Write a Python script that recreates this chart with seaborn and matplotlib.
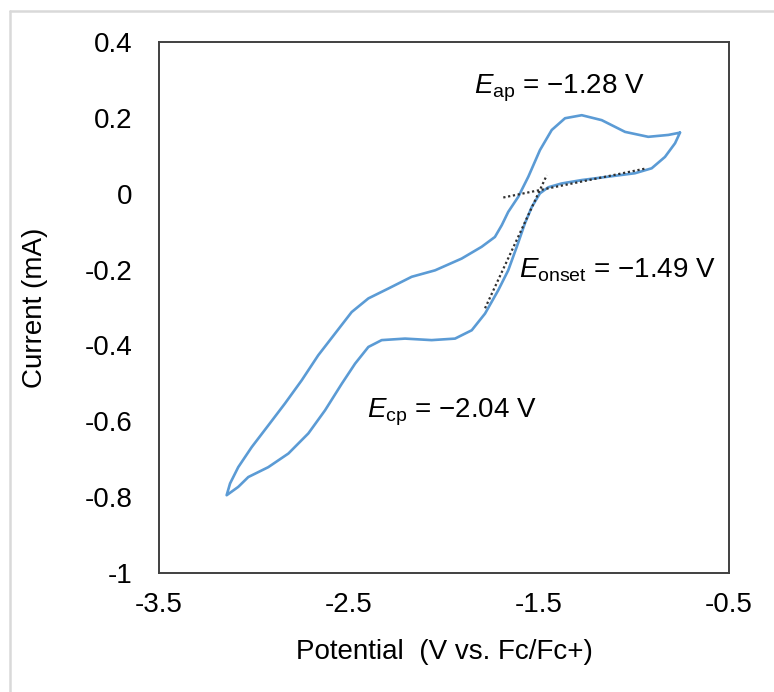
import numpy as np
import pandas as pd
import matplotlib
matplotlib.use("Agg")
import matplotlib.pyplot as plt
from matplotlib.lines import Line2D
import seaborn as sns

# ---- data (cathodic scan from right tip, then anodic return) ----
cath_V = [-0.758, -0.784, -0.837, -0.907, -0.995, -1.135, -1.275, -1.381, -1.451, -1.495,
          -1.538, -1.574, -1.617, -1.662, -1.714, -1.784, -1.854, -1.942, -2.065, -2.205,
          -2.328, -2.398, -2.468, -2.538, -2.626, -2.714, -2.819, -2.925, -3.030, -3.083,
          -3.144]
cath_I = [0.161, 0.133, 0.097, 0.067, 0.054, 0.045, 0.036, 0.027, 0.017, 0.001,
          -0.035, -0.078, -0.140, -0.202, -0.254, -0.316, -0.360, -0.382, -0.386, -0.382,
          -0.386, -0.404, -0.448, -0.501, -0.571, -0.632, -0.685, -0.721, -0.747, -0.773,
          -0.795]
anod_V = [-3.126, -3.083, -3.012, -2.925, -2.837, -2.749, -2.662, -2.574, -2.486, -2.398,
          -2.293, -2.170, -2.047, -1.907, -1.802, -1.732, -1.696, -1.662, -1.609, -1.556,
          -1.495, -1.433, -1.363, -1.275, -1.170, -1.047, -0.925, -0.819, -0.758]
anod_I = [-0.764, -0.721, -0.668, -0.611, -0.553, -0.492, -0.426, -0.369, -0.312, -0.276,
          -0.250, -0.219, -0.202, -0.171, -0.140, -0.114, -0.083, -0.048, -0.008, 0.045,
          0.115, 0.168, 0.199, 0.207, 0.194, 0.163, 0.150, 0.155, 0.161]

tangent_V = [-1.784, -1.459]
tangent_I = [-0.302, 0.049]
baseline_V = [-1.688, -0.933]
baseline_I = [-0.010, 0.067]

x_ticks = [-3.5, -2.5, -1.5, -0.5]
x_ticklabels = ["-3.5", "-2.5", "-1.5", "-0.5"]
y_ticks = [0.4, 0.2, 0.0, -0.2, -0.4, -0.6, -0.8, -1.0]
y_ticklabels = ["0.4", "0.2", "0", "-0.2", "-0.4", "-0.6", "-0.8", "-1"]

annotations = [
    (r"$\mathit{E}_{\mathrm{ap}}$ = −1.28 V", -1.840, 0.279),
    (r"$\mathit{E}_{\mathrm{onset}}$ = −1.49 V", -1.605, -0.202),
    (r"$\mathit{E}_{\mathrm{cp}}$ = −2.04 V", -2.405, -0.576),
]

# ---- styling ----
sns.set_theme(style="white")
plt.rcParams["font.family"] = ["Liberation Sans", "DejaVu Sans"]
plt.rcParams["mathtext.fontset"] = "custom"
plt.rcParams["mathtext.rm"] = "Liberation Sans"
plt.rcParams["mathtext.it"] = "Liberation Sans:italic"
plt.rcParams["axes.unicode_minus"] = False

fig = plt.figure(figsize=(7.74, 6.92), dpi=100)
ax = fig.add_axes([159 / 774, 1 - 573 / 692, (729 - 159) / 774, (573 - 42) / 692])

cv = pd.DataFrame({
    "V": cath_V + anod_V,
    "I": cath_I + anod_I,
})
sns.lineplot(data=cv, x="V", y="I", sort=False, estimator=None, ax=ax,
             color="#5b9bd5", linewidth=1.9)

for xs, ys in [(tangent_V, tangent_I), (baseline_V, baseline_I)]:
    sns.lineplot(x=xs, y=ys, sort=False, estimator=None, ax=ax,
                 color="#303030", linewidth=1.6, linestyle=(0, (1, 1.2)))

for txt, xv, yv in annotations:
    ax.text(xv, yv, txt, fontsize=20, ha="left", va="center", color="black")

ax.set_xlim(-3.5, -0.5)
ax.set_ylim(-1.0, 0.4)
ax.set_xticks(x_ticks)
ax.set_xticklabels(x_ticklabels)
ax.set_yticks(y_ticks)
ax.set_yticklabels(y_ticklabels)
ax.tick_params(axis="x", direction="in", length=8, width=1.2, color="#595959",
               labelsize=20, pad=14, labelcolor="black")
ax.tick_params(axis="y", length=0, labelsize=20, pad=19, labelcolor="black")
ax.set_xlabel("Potential  (V vs. Fc/Fc+)", fontsize=20, color="black")
ax.set_ylabel("Current (mA)", fontsize=20, color="black")
ax.xaxis.set_label_coords(0.5, -0.125)
ax.yaxis.set_label_coords(-0.195, 0.5)
for s in ax.spines.values():
    s.set_color("#404040")
    s.set_linewidth(1.4)
    s.set_visible(True)

# light gray outer chart frame
fig.add_artist(Line2D([10 / 774, 10 / 774], [0, 1 - 11 / 692], transform=fig.transFigure,
                      color="#d9d9d9", linewidth=1.8))
fig.add_artist(Line2D([10 / 774, 1], [1 - 11 / 692, 1 - 11 / 692], transform=fig.transFigure,
                      color="#d9d9d9", linewidth=1.8))

fig.savefig("out.png", dpi=100)
